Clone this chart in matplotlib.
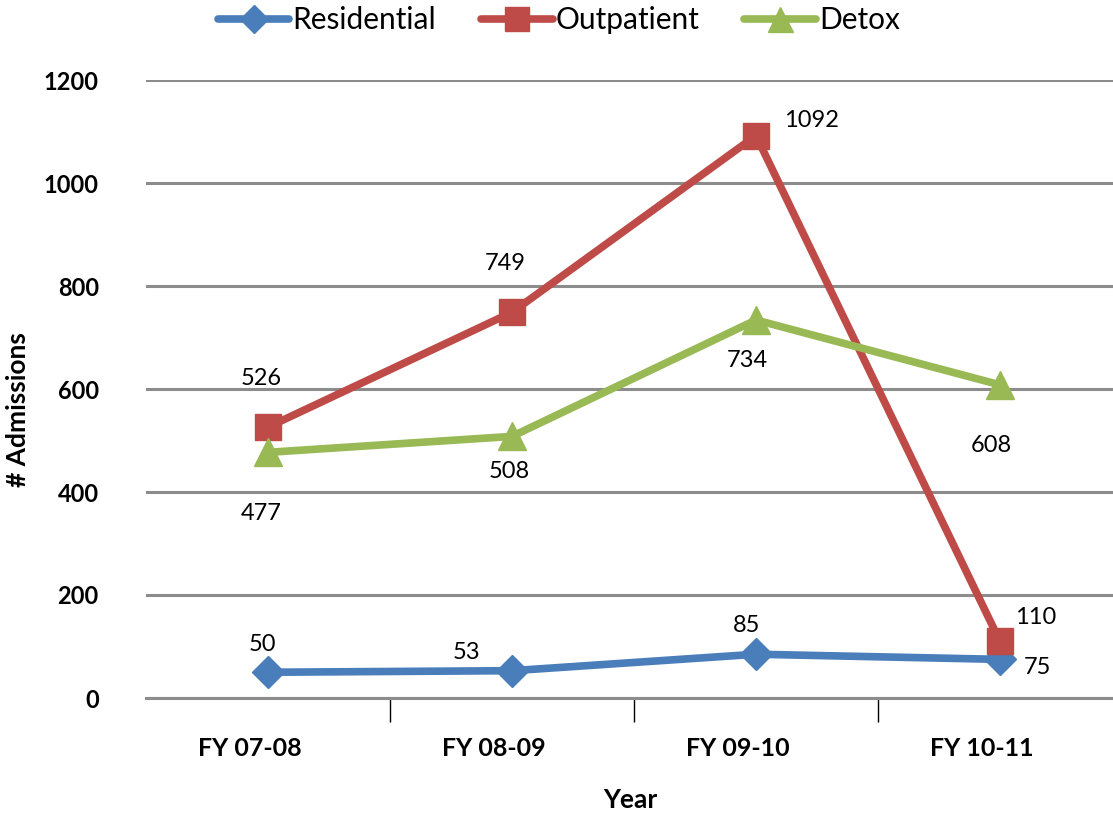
import matplotlib
matplotlib.use("Agg")
import matplotlib.pyplot as plt
from matplotlib.ticker import FixedLocator
from matplotlib.transforms import ScaledTranslation

plt.rcParams['font.family'] = ['Lato', 'DejaVu Sans']

years = ["FY 07-08", "FY 08-09", "FY 09-10", "FY 10-11"]
residential = [50, 53, 85, 75]
outpatient = [526, 749, 1092, 110]
detox = [477, 508, 734, 608]

# label offsets in points (dx, dy) for each data label
res_off = [(-4, 20), (-33, 13), (-7, 21), (27, -6)]
out_off = [(-5, 35), (-5, 35), (40, 11), (26, 17)]
det_off = [(-5, -44), (-2, -25), (-6, -29), (-6, -44)]

fig = plt.figure(figsize=(11.13, 8.15), dpi=100)
ax = fig.add_axes([146 / 1113, 117 / 815, 976 / 1113, 618 / 815])

x = list(range(len(years)))
series = [
    ("Residential", residential, "#4a7ebb", "D", 16, res_off),
    ("Outpatient", outpatient, "#be4b48", "s", 19, out_off),
    ("Detox", detox, "#98b954", "^", 20, det_off),
]
for name, vals, col, mk, ms, offs in series:
    ax.plot(x, vals, color=col, lw=5.5, marker=mk, markersize=ms, label=name,
            solid_capstyle="round", solid_joinstyle="round")
    for xi, v, (dx, dy) in zip(x, vals, offs):
        ax.annotate(str(v), (xi, v), xytext=(dx, dy), textcoords="offset points",
                    ha="center", va="center", fontsize=17)

ax.set_xlim(-0.5, 3.5)
ax.set_ylim(0, 1200)
ax.set_yticks(range(0, 1201, 200))
ax.yaxis.grid(True, color="#8c8c8c", lw=2.2)
ax.set_axisbelow(True)
for s in ["top", "right", "left"]:
    ax.spines[s].set_visible(False)
ax.spines["bottom"].set_color("#8c8c8c")
ax.spines["bottom"].set_linewidth(2.2)

ax.set_xticks(x)
ax.set_xticklabels(years, fontsize=18, fontweight="bold")
ax.xaxis.set_minor_locator(FixedLocator([0.5, 1.5, 2.5]))
ax.tick_params(axis="x", which="major", length=0, pad=28)
ax.tick_params(axis="x", which="minor", length=17, width=1, color="black")
ax.tick_params(axis="y", length=0, labelsize=17, pad=34)
for lbl in ax.get_yticklabels():
    lbl.set_fontweight("bold")
shift = ScaledTranslation(-18 / 100, 0, fig.dpi_scale_trans)
for lbl in ax.get_xticklabels():
    lbl.set_transform(lbl.get_transform() + shift)

ax.set_xlabel("Year", fontsize=19, fontweight="bold", va="center", ha="center")
ax.set_ylabel("# Admissions", fontsize=19, fontweight="bold", va="center", ha="center")
ax.xaxis.set_label_coords(0.496, -0.165)
ax.yaxis.set_label_coords(-0.131, 0.466)

fig.legend(*ax.get_legend_handles_labels(), loc="center", bbox_to_anchor=(0.502, 0.975),
           ncol=3, frameon=False, fontsize=21.5, handlelength=2.4, columnspacing=1.5,
           handletextpad=0.1, markerscale=0.9)

fig.savefig("out.png", dpi=100)
